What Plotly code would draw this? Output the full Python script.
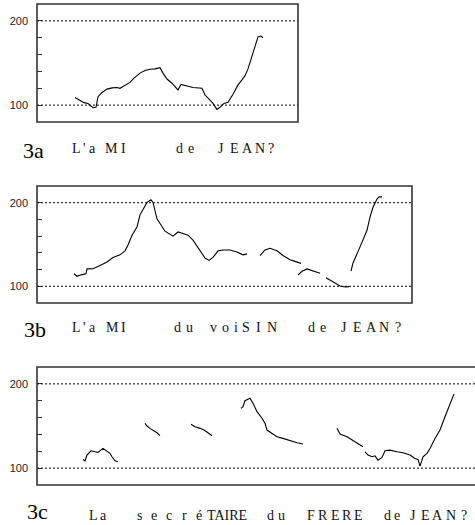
import plotly.graph_objects as go

# ---------------- data (time in ms, F0 in Hz; None = unvoiced gap) ----------------
t_3a = [380, 430, 470, 510, 560, 590, 600, 610, 650, 700, 750, 800, 830, 880, 930, 970,
        1030, 1080, 1130, 1180, 1230, 1260, 1300, 1350, 1390, 1410, 1440, 1500, 1560, 1650,
        1680, 1720, 1760, 1800, 1830, 1870, 1910, 1960, 2010, 2050, 2080, 2110, 2130, 2160,
        2180, 2210, 2240, 2260]
f0_3a = [109, 105.5, 103, 102, 97, 97.5, 106, 110, 115, 119, 120.5, 121, 120, 124, 127, 132,
         138, 141, 142.5, 143, 144.5, 138, 131, 126, 120, 118, 124.5, 123, 121, 120,
         112, 107, 102, 95, 97.5, 102, 103.5, 113, 124, 130, 135, 143, 151, 162,
         171, 181, 182, 180]

t_3b = [370, 400, 450, 490, 500, 560, 630, 700, 760, 830, 880, 910, 950, 1000, 1030, 1060,
        1100, 1140, 1160, 1200, 1230, 1280, 1360, 1410, 1460, 1510, 1560, 1630, 1680, 1720,
        1760, 1810, 1860, 1930, 2000, 2060, 2100, None,
        2230, 2280, 2330, 2400, 2460, 2530, 2580, 2640, None,
        2610, 2650, 2700, 2760, 2830, None,
        2890, 2960, 3030, 3080, 3120, None,
        3140, 3160, 3210, 3260, 3300, 3330, 3360, 3400, 3420, 3450]
f0_3b = [115, 112, 114, 115, 120.8, 121, 125, 129, 134.5, 137.6, 142.4, 149.4, 161, 171, 185.5, 192.6,
         200.4, 203.5, 200.4, 180.8, 175, 165.9, 160, 165, 163.2, 161.2, 155.3, 143.5, 133.8, 131,
         134.5, 142.4, 143.5, 143.5, 141, 137.6, 138.8, None,
         136.8, 143.5, 145.5, 142.4, 136.8, 131.8, 129.8, 127.4, None,
         113.3, 118, 120.8, 118.8, 115.6, None,
         110.2, 105.5, 100.4, 99.2, 99.6, None,
         118, 127.9, 141.5, 155.3, 167, 182.7, 194.5, 204.3, 207, 207]

t_3c = [460, 480, 500, 540, 580, 610, 660, 700, 730, 750, 780, 810, None,
        1080, 1100, 1130, 1160, 1200, 1230, None,
        1540, 1580, 1630, 1670, 1710, 1750, None,
        2040, 2060, 2080, 2130, 2160, 2200, 2250, 2280, 2300, 2350, 2400, 2460, 2530, 2600, 2660, None,
        3000, 3030, 3100, 3160, 3230, 3260, None,
        3280, 3310, 3350, 3380, 3410, 3450, 3480, 3530, 3600, 3660, 3730, 3780, 3810, 3830,
        3850, 3860, 3900, 3930, 3980, 4030, 4080, 4130, 4170]
f0_3c = [110.3, 108.7, 115.5, 120.6, 119.4, 118.7, 123.4, 120.6, 117.5, 113.5, 108.7, 107.5, None,
         153.2, 150, 147.2, 145.2, 142, 138.5, None,
         152, 149.2, 147.2, 145.2, 142, 138.5, None,
         171, 173, 180, 182.9, 177, 167, 159.2, 153.2, 145.2, 141.3, 137.3, 135.3, 132.5, 130.1, 128.6, None,
         147.2, 140.5, 137.3, 132.5, 127.4, 125.4, None,
         119.4, 115.5, 113.5, 114.6, 109.5, 112.7, 120.6, 121.4, 119.4, 118.2, 115.5, 111.5, 110.3, 102.4,
         109.5, 113.5, 117.5, 123.4, 135.3, 145.2, 161, 177, 188.1]

panel_labels = ["3a", "3b", "3c"]
words_3a = ["L", "'", "a", "M", "I", "d", "e", "J", "E", "A", "N", "?"]
words_3b = ["L", "'", "a", "M", "I", "d", "u", "v", "o", "i", "S", "I", "N", "d", "e",
            "J", "E", "A", "N", "?"]
words_3c = ["L", "a", "s", "e", "c", "r", "é", "TAIRE", "d", "u", "F", "R", "E", "R", "E",
            "d", "e", "J", "E", "A", "N", "?"]

y_ticks = [100, 120, 140, 160, 180, 200]
y_tick_text = ["100", "", "", "", "", "200"]

# ---------------- layout helpers ----------------
W, H = 475, 525


def px_x(x):
    return x / W


def px_y(y):
    return 1 - y / H


panels = [
    dict(t=t_3a, f=f0_3a, xr=[0, 2610], xd=[37, 298], yd=[122, 4], x1=1.0),
    dict(t=t_3b, f=f0_3b, xr=[0, 3750], xd=[37, 412], yd=[303, 186], x1=1.0),
    dict(t=t_3c, f=f0_3c, xr=[0, 4380], xd=[37, 475], yd=[485, 367], x1=1.03),
]

fig = go.Figure()
layout = dict(
    width=W, height=H, autosize=False,
    margin=dict(l=0, r=0, t=0, b=0),
    paper_bgcolor="white", plot_bgcolor="white",
    showlegend=False,
)
shapes = []
for i, p in enumerate(panels):
    n = "" if i == 0 else str(i + 1)
    xa, ya = "x" + n, "y" + n
    fig.add_trace(go.Scatter(x=p["t"], y=p["f"], mode="lines", connectgaps=False,
                             line=dict(color="black", width=1.1),
                             xaxis=xa, yaxis=ya, hoverinfo="skip"))
    layout["xaxis" + n] = dict(domain=[px_x(p["xd"][0]), min(px_x(p["xd"][1]), 1.0)],
                               range=p["xr"], showticklabels=False, showgrid=False,
                               zeroline=False, showline=False, ticks="", anchor=ya,
                               fixedrange=True)
    layout["yaxis" + n] = dict(domain=[px_y(p["yd"][0]), px_y(p["yd"][1])], range=[80, 220],
                               tickvals=y_ticks, ticktext=y_tick_text, ticks="inside",
                               ticklen=5, tickwidth=1.2, tickcolor="#333",
                               ticklabelstandoff=8,
                               tickfont=dict(family="Liberation Sans", size=11, color="#222"),
                               showgrid=False, zeroline=False, showline=False, anchor=xa,
                               fixedrange=True)
    for yv in (100, 200):
        shapes.append(dict(type="line", xref=xa + " domain", yref=ya, x0=0, x1=p["x1"],
                           y0=yv, y1=yv, line=dict(color="black", width=1, dash="2px,2px")))
    shapes.append(dict(type="rect", xref=xa + " domain", yref=ya + " domain",
                       x0=0, x1=p["x1"], y0=0, y1=1,
                       line=dict(color="#333", width=1.6), fillcolor="rgba(0,0,0,0)"))

layout["shapes"] = shapes

annotations = []
label_pos = [(33, 150, "middle"), (35, 329, "middle"), (37, 525, "bottom")]
for lab, (lx, ly, anc) in zip(panel_labels, label_pos):
    annotations.append(dict(text=lab, x=px_x(lx), y=px_y(ly), xref="paper", yref="paper",
                            xanchor="center", yanchor=anc, showarrow=False, borderpad=0,
                            font=dict(family="Liberation Serif", size=22, color="black")))

lines = [
    (words_3a, [76, 84, 92, 111, 123, 179, 191, 221, 234, 247, 260, 271], 148),
    (words_3b, [76, 84, 92, 112, 123, 177, 189, 213, 225, 236, 246, 258, 272, 311, 323,
                344, 357, 371, 384, 398], 327),
    (words_3c, [93, 103, 139, 154, 169, 184, 199, 227, 270, 281, 311, 323, 335, 347, 358,
                387, 397, 413, 425, 437, 451, 464], 515),
]
for words, xs, yc in lines:
    for w, xc in zip(words, xs):
        annotations.append(dict(text=w, x=px_x(xc), y=px_y(yc), xref="paper", yref="paper",
                                xanchor="center", yanchor="middle", showarrow=False,
                                font=dict(family="Liberation Serif", size=14, color="#111")))
layout["annotations"] = annotations

fig.update_layout(**layout)
fig.write_html("out.html", config={"displayModeBar": False},
               post_script="document.body.style.margin='0';document.body.style.overflow='hidden';")
